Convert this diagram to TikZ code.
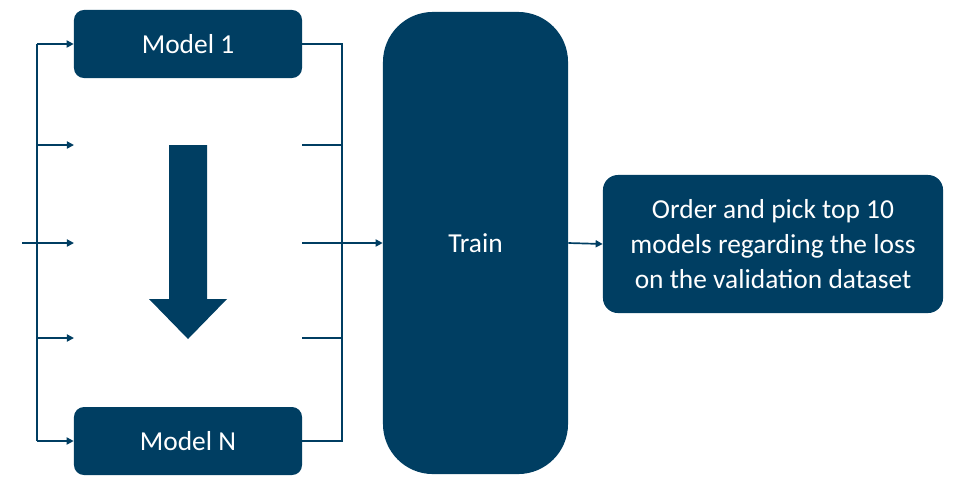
\documentclass[tikz,border=0pt]{standalone}
\usepackage{fontspec}
\setmainfont{Carlito}
\usepackage{tikz}
\usetikzlibrary{arrows.meta,positioning}
\definecolor{navyblue}{RGB}{0,62,98}

\begin{document}
\begin{tikzpicture}[
  x=0.025cm, y=-0.025cm,
  every node/.style={font=\fontsize{19.5}{25}\selectfont, text centered, text=white},
  modelbox/.style={rectangle, rounded corners=0.25cm, minimum width=5.7cm, minimum height=1.7cm, fill=navyblue},
  trainbox/.style={rectangle, rounded corners=1.25cm, minimum width=4.625cm, minimum height=11.55cm, fill=navyblue},
  resultbox/.style={rectangle, rounded corners=0.375cm, minimum width=8.5cm, minimum height=3.45cm, fill=navyblue, align=center},
  line_style/.style={line width=1.2pt, navyblue},
  arrow/.style={-{Triangle[length=5pt,width=5pt]}, line width=1.2pt, navyblue}
]
\useasboundingbox (0,0) rectangle (958,476);

% Models
\node[modelbox] (m1) at (188,44) {Model 1};
\node[modelbox] (mN) at (188,441) {Model N};

% Big arrow between the models
\fill[navyblue] (169,145) -- (207,145) -- (207,299) -- (227,299) -- (188,339) -- (149,299) -- (169,299) -- cycle;

% Train
\node[trainbox] (train) at (475.5,243) {Train};

% Result
\node[resultbox] (result) at (773,244) {Order and pick top 10\\models regarding the loss\\on the validation dataset};

% Left bus
\coordinate (in) at (22,243);
\coordinate (l1) at (37,44);
\coordinate (l2) at (37,145);
\coordinate (l4) at (37,338);
\coordinate (l5) at (37,441);
\coordinate (a2) at (74,145);
\coordinate (a3) at (74,243);
\coordinate (a4) at (74,338);
\draw[line_style] (l1) -- (l5);
\draw[arrow] (l1) -- (m1.west);
\draw[arrow] (l2) -- (a2);
\draw[arrow] (in) -- (a3);
\draw[arrow] (l4) -- (a4);
\draw[arrow] (l5) -- (mN.west);

% Right bus
\coordinate (r1) at (342,44);
\coordinate (r2) at (342,145);
\coordinate (r4) at (342,338);
\coordinate (r5) at (342,441);
\coordinate (b2) at (302,145);
\coordinate (b3) at (302,243);
\coordinate (b4) at (302,338);
\draw[line_style] (m1.east) -- (r1) -- (r5) -- (mN.east);
\draw[line_style] (b2) -- (r2);
\draw[line_style] (b4) -- (r4);
\draw[arrow] (b3) -- (train.west);

% Output
\draw[arrow] (train.east) -- (result.west);

\end{tikzpicture}
\end{document}
